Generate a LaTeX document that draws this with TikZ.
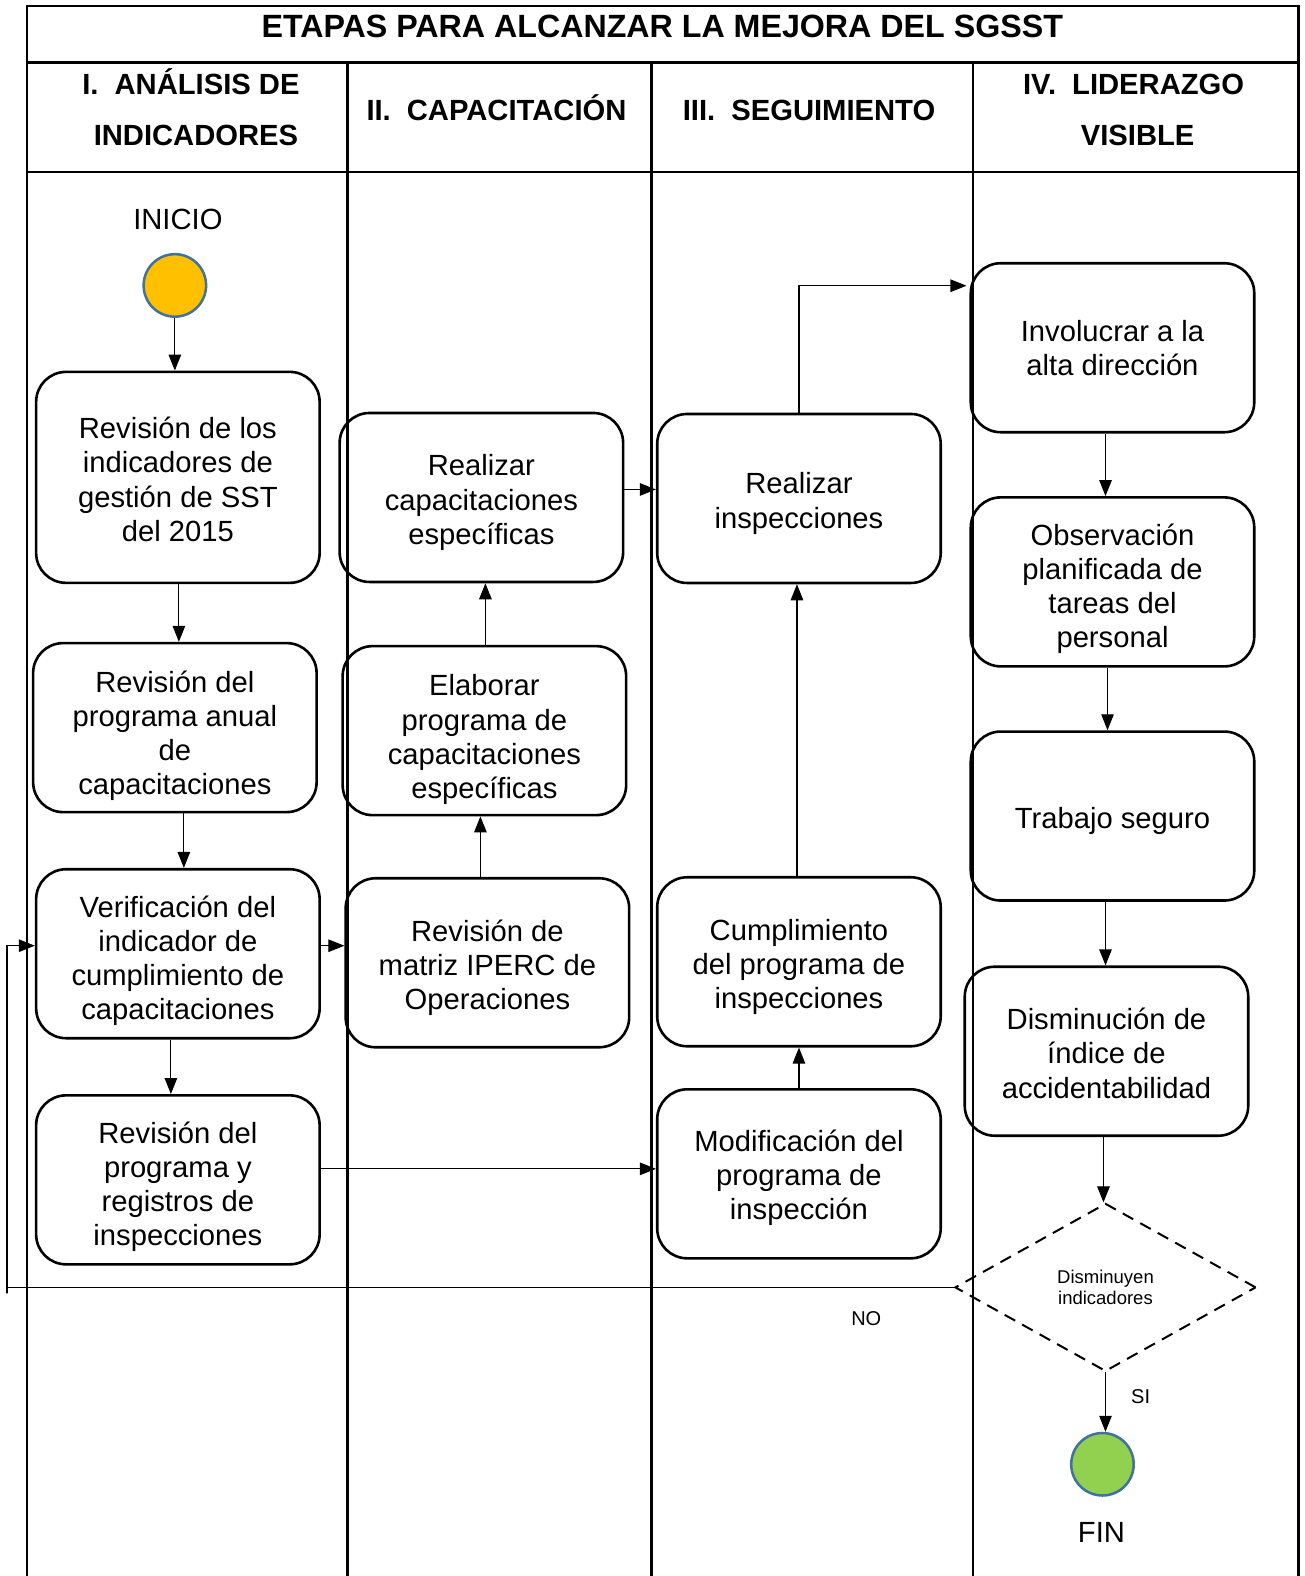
\documentclass[tikz,border=0pt]{standalone}
\usepackage{fontspec}
\setmainfont{Liberation Sans}
\usetikzlibrary{shapes.geometric,arrows.meta}
\definecolor{inicol}{HTML}{FFC000}
\definecolor{fincol}{HTML}{92D050}
\definecolor{circedge}{HTML}{41719C}
\newcommand{\bxt}[2][10pt]{\vbox{\let\\\cr\kern#1\halign{\hfil##\hfil\cr#2\crcr}}}
\begin{document}
\begin{tikzpicture}[x=1.005pt,y=-1.005pt,
  box/.style={draw, line width=2.6pt, rounded corners=30pt, minimum width=283.5pt,
    minimum height=169pt, inner sep=0pt,
    font=\fontsize{29.2}{34.2}\selectfont},
  conn/.style={line width=1.2pt, -{Triangle[length=16pt,width=12.5pt]}},
  frame/.style={line width=2.6pt},
  hdr/.style={anchor=base, inner sep=0pt, font=\bfseries\fontsize{29.2}{34}\selectfont},
  lbl/.style={inner sep=0pt},
  circ/.style={circle, draw=circedge, line width=2.5pt, minimum size=62.5pt, inner sep=0pt},
]
\useasboundingbox (0,0) rectangle (1298.5,1568.2);
\fill[white] (0,0) rectangle (1298.5,1568.2);

% frame
\draw[frame] (27,1568.2) -- (27,6) -- (1292,6) -- (1292,1568.2);
\draw[frame] (27,62) -- (1292,62);
\draw[frame] (27,171) -- (1292,171);
\draw[frame] (346,62) -- (346,1568.2);
\draw[frame] (648,62) -- (648,1568.2);
\draw[frame] (968,62) -- (968,1568.2);

% titles
\node[anchor=base, inner sep=0pt, font=\bfseries\fontsize{32.2}{38}\selectfont] (title) at (659,37) {ETAPAS PARA ALCANZAR LA MEJORA DEL SGSST};
\node[hdr] (h1a) at (190,94) {I.\hspace{0.55em}ANÁLISIS DE};
\node[hdr] (h1b) at (195,145) {INDICADORES};
\node[hdr] (h2) at (494,120) {II.\hspace{0.55em}CAPACITACIÓN};
\node[hdr] (h3) at (805,120) {III.\hspace{0.55em}SEGUIMIENTO};
\node[hdr] (h4a) at (1128,94) {IV.\hspace{0.55em}LIDERAZGO};
\node[hdr] (h4b) at (1132,145) {VISIBLE};

% start / end
\node[lbl, font=\fontsize{29.2}{34}\selectfont] (initxt) at (177,218) {INICIO};
\node[circ, fill=inicol] (ini) at (174,284) {};
\node[circ, fill=fincol] (fin) at (1097,1457) {};
\node[lbl, font=\fontsize{29.2}{34}\selectfont] (fintxt) at (1096,1525) {FIN};

% column I
\node[box, minimum height=211pt] (B1) at (177,475) {\bxt[4pt]{Revisión de los\\indicadores de\\gestión de SST\\del 2015}};
\node[box] (B2) at (174,724) {\bxt[16pt]{Revisión del\\programa anual\\de\\capacitaciones}};
\node[box] (B3) at (177,949) {\bxt[14pt]{Verificación del\\indicador de\\cumplimiento de\\capacitaciones}};
\node[box] (B4) at (177,1174) {\bxt[14pt]{Revisión del\\programa y\\registros de\\inspecciones}};

% column II
\node[box] (C1) at (479,495) {\bxt[10pt]{Realizar\\capacitaciones\\específicas}};
\node[box] (C2) at (482,727) {\bxt[18pt]{Elaborar\\programa de\\capacitaciones\\específicas}};
\node[box] (C3) at (485,958) {\bxt[10pt]{Revisión de\\matriz IPERC de\\Operaciones}};

% column III
\node[box] (D1) at (795,496) {\bxt[10pt]{Realizar\\inspecciones}};
\node[box] (D2) at (795,957) {\bxt[10pt]{Cumplimiento\\del programa de\\inspecciones}};
\node[box] (D3) at (795,1168) {\bxt[8pt]{Modificación del\\programa de\\inspección}};

% column IV
\node[box] (E1) at (1107,346) {\bxt[0pt]{Involucrar a la\\alta dirección}};
\node[box] (E2) at (1107,579) {\bxt[14pt]{Observación\\planificada de\\tareas del\\personal}};
\node[box] (E3) at (1107,812) {\bxt[10pt]{Trabajo seguro}};
\node[box] (E4) at (1101,1046) {\bxt[4pt]{Disminución de\\índice de\\accidentabilidad}};

\node[diamond, draw, line width=2pt, dash pattern=on 12pt off 8pt, minimum width=301pt,
  minimum height=168pt, inner sep=0pt, aspect=1.8, align=center,
  font=\fontsize{18.5}{22}\selectfont] (diam) at (1100,1281) {Disminuyen\\indicadores};

\node[lbl, font=\fontsize{20}{24}\selectfont] (no) at (862,1312) {NO};
\node[lbl, font=\fontsize{20}{24}\selectfont] (si) at (1135,1390) {SI};

% connectors
\draw[conn] (ini.south) -- (ini.south |- B1.north);
\draw[conn] ([xshift=1pt]B1.south) -- ([xshift=1pt]B1.south |- B2.north);
\draw[conn] ([xshift=9pt]B2.south) -- ([xshift=9pt]B2.south |- B3.north);
\draw[conn] ([xshift=-7pt]B3.south) -- ([xshift=-7pt]B3.south |- B4.north);
\draw[conn] ([yshift=8pt]B3.east) -- ([yshift=8pt]B3.east -| C3.west);
\draw[conn] ([xshift=-7pt]C3.north) -- ([xshift=-7pt]C3.north |- C2.south);
\draw[conn] ([xshift=1pt]C2.north) -- ([xshift=1pt]C2.north |- C1.south);
\draw[conn] ([yshift=8pt]C1.east) -- ([yshift=8pt]C1.east -| D1.west);
\draw[conn, shorten >=3pt] (D1.north) |- ([yshift=62pt]E1.west);
\draw[conn] ([xshift=-2pt]D2.north) -- ([xshift=-2pt]D2.north |- D1.south);
\draw[conn] (D3.north) -- (D3.north |- D2.south);
\draw[conn] ([yshift=11pt]B4.east) -- ([yshift=11pt]B4.east -| D3.west);
\draw[conn] ([xshift=-7pt]E1.south) -- ([xshift=-7pt]E1.south |- E2.north);
\draw[conn] ([xshift=-5pt]E2.south) -- ([xshift=-5pt]E2.south |- E3.north);
\draw[conn] ([xshift=-7pt]E3.south) -- ([xshift=-7pt]E3.south |- E4.north);
\draw[conn] ([xshift=-3pt]E4.south) -- ([xshift=-3pt]E4.south |- diam.north);
\draw[conn] (diam.south) -- (diam.south |- fin.north);

\coordinate (fbb) at (7,1287);
\coordinate (fbt) at (7,941);
\draw[conn] (diam.west) -| (fbb) -- (fbt) -- (fbt -| B3.west);
\end{tikzpicture}
\end{document}
